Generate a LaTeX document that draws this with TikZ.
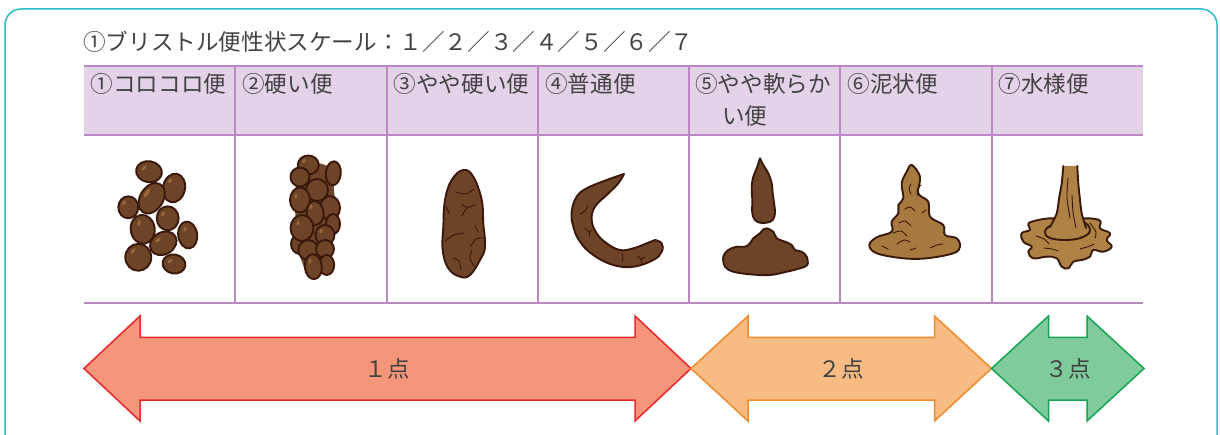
\documentclass[tikz,border=0pt]{standalone}
\usepackage{fontspec}
\setmainfont{Noto Sans CJK JP}
\usepackage{tikz}

\definecolor{frameteal}{HTML}{2EC0C4}
\definecolor{gridpurple}{HTML}{BB88C4}
\definecolor{headfill}{HTML}{E4D2E8}
\definecolor{textgray}{HTML}{424242}
\definecolor{stoolbrown}{HTML}{6D4428}
\definecolor{mudbrown}{HTML}{A67A3E}
\definecolor{waterbrown}{HTML}{AD8244}
\definecolor{stoolline}{HTML}{3A180B}
\definecolor{shinebrown}{HTML}{9C6A3B}
\definecolor{redfill}{HTML}{F5967A}
\definecolor{redline}{HTML}{E9262B}
\definecolor{orangefill}{HTML}{F9BB84}
\definecolor{orangeline}{HTML}{F18B2A}
\definecolor{greenfill}{HTML}{80CB9B}
\definecolor{greenline}{HTML}{15A550}

\tikzset{
  frameline/.style={draw=frameteal,line width=1.5pt,rounded corners=16pt},
  gridline/.style={draw=gridpurple,line width=2pt},
  headtext/.style={anchor=base west,inner sep=0pt,text=textgray,align=left,
    font=\fontsize{22.6}{32}\selectfont},
  lump/.style={fill=stoolbrown,draw=stoolline,line width=1.9pt,line join=round},
  mud/.style={fill=mudbrown,draw=stoolline,line width=1.9pt,line join=round},
  water/.style={fill=waterbrown,draw=stoolline,line width=1.9pt,line join=round},
  crease/.style={draw=stoolline,line width=0.9pt,line cap=round},
  shine/.style={fill=shinebrown},
  scorearrow/.style={line width=1.5pt,line join=miter},
  scoretext/.style={inner sep=0pt,text=textgray,font=\fontsize{22.6}{26}\selectfont}
}

\begin{document}
\begin{tikzpicture}[x=1pt,y=-1pt]
  \useasboundingbox (0,0) rectangle (1220,435);
  % frame
  \draw[frameline] (5,9) rectangle (1217,452);
  \node[headtext] (title) at (83,50.5)
    {①ブリストル便性状スケール：１／２／３／４／５／６／７};

  % table
  \fill[headfill] (84,66) rectangle (1143,135);
  \draw[gridline] (84,66) -- (1143,66);
  \draw[gridline] (84,135) -- (1143,135);
  \draw[gridline] (84,303.5) -- (1143,303.5);
  \draw[gridline] (235.3,66) -- (235.3,303.5);
  \draw[gridline] (386.6,66) -- (386.6,303.5);
  \draw[gridline] (537.9,66) -- (537.9,303.5);
  \draw[gridline] (689.1,66) -- (689.1,303.5);
  \draw[gridline] (840.4,66) -- (840.4,303.5);
  \draw[gridline] (991.7,66) -- (991.7,303.5);
  \node[headtext] (h1) at (90.5,93) {①コロコロ便};
  \node[headtext] (h2) at (242,93) {②硬い便};
  \node[headtext] (h3) at (393.5,93) {③やや硬い便};
  \node[headtext] (h4) at (545,93) {④普通便};
  \node[headtext] (h5) at (695,125) {⑤やや軟らか\\\hspace*{1.2em}い便};
  \node[headtext] (h6) at (847.5,93) {⑥泥状便};
  \node[headtext] (h7) at (998.5,93) {⑦水様便};

  % type 1: separate hard pellets
  \draw[lump,rotate around={-10:(149,171.7)}] (149,171.7) ellipse [x radius=13,y radius=10.5];
  \draw[lump,rotate around={-12:(174,188)}] (174,188) ellipse [x radius=11,y radius=14.5];
  \draw[lump,rotate around={-32:(151.7,198.3)}] (151.7,198.3) ellipse [x radius=11.5,y radius=16.5];
  \draw[lump] (128.3,207.3) ellipse [x radius=10,y radius=11];
  \draw[lump] (167.7,218.3) ellipse [x radius=11,y radius=12];
  \draw[lump,rotate around={8:(142.7,229.3)}] (142.7,229.3) ellipse [x radius=12,y radius=14.5];
  \draw[lump,rotate around={8:(187.7,235)}] (187.7,235) ellipse [x radius=9.5,y radius=13.5];
  \draw[lump,rotate around={30:(163.3,243.3)}] (163.3,243.3) ellipse [x radius=14,y radius=11];
  \draw[lump] (138.3,257.3) ellipse [x radius=13,y radius=13.5];
  \draw[lump,rotate around={-10:(174,264)}] (174,264) ellipse [x radius=11.5,y radius=9.5];
  \fill[shine,rotate around={50:(144,168)}] (144,168) ellipse [x radius=2.6,y radius=1.4];
  \fill[shine,rotate around={60:(170,181)}] (170,181) ellipse [x radius=2.6,y radius=1.4];
  \fill[shine,rotate around={58:(147,193)}] (147,193) ellipse [x radius=5,y radius=1.8];
  \fill[shine,rotate around={60:(124,203)}] (124,203) ellipse [x radius=2.6,y radius=1.4];
  \fill[shine,rotate around={60:(163,214)}] (163,214) ellipse [x radius=2.6,y radius=1.4];
  \fill[shine,rotate around={70:(139,223)}] (139,223) ellipse [x radius=3,y radius=1.4];
  \fill[shine,rotate around={70:(185,229)}] (185,229) ellipse [x radius=2.6,y radius=1.4];
  \fill[shine,rotate around={40:(158,240)}] (158,240) ellipse [x radius=3,y radius=1.4];
  \fill[shine,rotate around={60:(133,251)}] (133,251) ellipse [x radius=3,y radius=1.4];
  \fill[shine,rotate around={40:(170,261)}] (170,261) ellipse [x radius=2.6,y radius=1.4];

  % type 2: lumpy sausage
  \fill[stoolbrown] plot[smooth cycle,tension=0.7] coordinates {(310,163) (325,165) (333,172)
    (334,190) (335,205) (334,225) (332,245) (329,262) (324,272) (315,276) (307,272)
    (302,262) (297,245) (296,225) (295,205) (296,185) (300,170)};
  \draw[lump,rotate around={-5:(333.3,173.3)}] (333.3,173.3) ellipse [x radius=7.5,y radius=12];
  \draw[lump] (308.3,165) ellipse [x radius=10.5,y radius=9.5];
  \draw[lump] (300,177) ellipse [x radius=9.5,y radius=9.5];
  \draw[lump] (317,190) ellipse [x radius=11,y radius=11];
  \draw[lump] (330,208) ellipse [x radius=10,y radius=12];
  \draw[lump] (300,200) ellipse [x radius=10,y radius=12.5];
  \draw[lump] (333,224) ellipse [x radius=7,y radius=10];
  \draw[lump,rotate around={5:(315,213)}] (315,213) ellipse [x radius=8.5,y radius=12];
  \draw[lump] (300,244) ellipse [x radius=9,y radius=10];
  \draw[lump] (302,228) ellipse [x radius=11.5,y radius=13];
  \draw[lump] (325,235) ellipse [x radius=9.5,y radius=10];
  \draw[lump] (308.3,250) ellipse [x radius=10,y radius=10];
  \draw[lump] (325,249) ellipse [x radius=9,y radius=9];
  \draw[lump] (326.7,265) ellipse [x radius=7.5,y radius=10];
  \draw[lump,rotate around={5:(313.3,266.7)}] (313.3,266.7) ellipse [x radius=8.5,y radius=12.5];
  \fill[shine,rotate around={60:(304,161)}] (304,161) ellipse [x radius=2.4,y radius=1.3];
  \fill[shine,rotate around={70:(296,196)}] (296,196) ellipse [x radius=2.6,y radius=1.3];
  \fill[shine,rotate around={70:(311,207)}] (311,207) ellipse [x radius=2.6,y radius=1.3];
  \fill[shine,rotate around={70:(298,223)}] (298,223) ellipse [x radius=2.6,y radius=1.3];
  \fill[shine,rotate around={60:(321,231)}] (321,231) ellipse [x radius=2.4,y radius=1.3];
  \fill[shine,rotate around={70:(310,261)}] (310,261) ellipse [x radius=2.6,y radius=1.3];

  % type 3: cracked sausage
  \draw[lump] plot[smooth cycle,tension=0.7] coordinates {(463.3,170) (473.3,176.7)
    (481.7,200) (483.3,223.3) (485,246.7) (480,260) (470,275) (460,276.7)
    (448.3,268.3) (442.7,250) (443.3,226.7) (445,200) (451.7,180)};
  \draw[crease] plot[smooth] coordinates {(456,192) (466,194) (474,189)};
  \draw[crease] plot[smooth] coordinates {(462,216) (467,208) (476,205)};
  \draw[crease] (467,208) -- (462,204);
  \draw[crease] plot[smooth] coordinates {(446,206) (449,213)};
  \draw[crease] plot[smooth] coordinates {(445,241) (454,235) (464,233)};
  \draw[crease] plot[smooth] coordinates {(471,246) (476,239) (484,238)};
  \draw[crease] plot[smooth] coordinates {(472,250) (470,258) (474,266)};
  \draw[crease] plot[smooth] coordinates {(453,258) (459,261) (461,270)};
  \draw[crease] plot[smooth] coordinates {(475,226) (478,232)};

  % type 4: smooth curved sausage
  \draw[lump] plot[smooth,tension=0.7] coordinates {(624,174) (606.7,180) (586.7,188.3)
    (576.7,196.7) (571.7,211.7) (573.3,226.7) (580,241.7) (593.3,255) (613.3,265)
    (633.3,266.7) (653.3,260) (661.7,251.7) (661.7,243.3) (655,240)}
    -- plot[smooth,tension=0.7] coordinates {(655,240) (646.7,243.3) (633.3,248.3)
    (620,250) (606.7,243.3) (596.7,233.3) (591.7,220) (595,206.7) (606.7,195)
    (618.3,183.3) (624,174)} -- cycle;
  \draw[crease] plot[smooth] coordinates {(580,214) (585,211) (588,206)};
  \draw[crease] (585,228) -- (589,232) -- (592,230);
  \draw[crease] (589,232) -- (589,236);
  \draw[crease] plot[smooth] coordinates {(622,253) (623,258) (622,262)};
  \draw[crease] (638,256) -- (641,259) -- (645,257);
  \draw[crease] (641,259) -- (642,263);

  % type 5: soft blobs
  \draw[lump] plot[smooth,tension=0.6] coordinates {(760,158.3) (763.3,165) (768.3,173.3)
    (771.7,183.3) (772.7,193.3) (774.3,205) (775,213.3) (772.7,220) (766.7,222.7)
    (760,222.7) (755,220) (752.3,213.3) (752.3,200) (751.7,186.7) (753.3,176.7)
    (756.7,168.3) (760,158.3)} -- cycle;
  \draw[lump] plot[smooth cycle,tension=0.6] coordinates {(766.7,228.3) (773.3,231.7)
    (776.7,238.3) (785,241.7) (791.7,245) (795,250) (801.7,251.7) (806.7,256.7)
    (807.3,265) (800,268.3) (786.7,271.7) (770,275) (750,274.3) (733.3,271.7)
    (725,266.7) (723.3,256.7) (728.3,250) (736.7,246.7) (745,246.7) (750,243.3)
    (753.3,238.3) (760,233.3) (763.3,229.3)};

  % type 6: mushy heap
  \draw[mud] plot[smooth cycle,tension=0.6] coordinates {(911.7,165) (920,176.7)
    (918.3,193.3) (928.3,201.7) (930,216.7) (943.3,225) (945,235) (956.7,238.3)
    (960,246.7) (953.3,253.3) (926.7,258.3) (903.3,258.3) (876.7,253.3)
    (869.3,245) (876.7,237.3) (891.7,231.7) (891.7,221.7) (898.3,213.3)
    (898.3,205) (903.3,198.3) (901.7,183.3) (906.7,171.7)};
  \draw[crease] plot[smooth] coordinates {(911,184) (909,189) (911,194)};
  \draw[crease] plot[smooth] coordinates {(921,185) (917,190) (918,196)};
  \draw[crease] plot[smooth] coordinates {(905,209) (910,207) (915,211)};
  \draw[crease] plot[smooth] coordinates {(922,213) (926,210)};
  \draw[crease] plot[smooth] coordinates {(899,223) (905,221) (911,226)};
  \draw[crease] plot[smooth] coordinates {(893,233) (901,231) (907,236)};
  \draw[crease] plot[smooth] coordinates {(897,244) (904,240) (910,242)};
  \draw[crease] plot[smooth] coordinates {(882,246) (888,249)};
  \draw[crease] plot[smooth] coordinates {(930,248) (937,245) (943,244)};
  \draw[crease] plot[smooth] coordinates {(910,250) (916,248)};

  % type 7: watery puddle
  \draw[water] plot[smooth cycle,tension=0.7] coordinates {(1031.7,221.7) (1050,218.3)
    (1068,220) (1086.7,218.3) (1100,220.7) (1100,228.3) (1110,233.3) (1106.7,240)
    (1111.7,246.7) (1103.3,251.7) (1093.3,250) (1090,256.7) (1081.7,260)
    (1073.3,261.7) (1068.3,268.3) (1061.7,266.7) (1056.7,258.3) (1046.7,256.7)
    (1033.3,258.3) (1028.3,251.7) (1031.7,246.7) (1023.3,241.7) (1021.7,233.3)
    (1030,230) (1028.3,225)};
  \draw[water] plot[smooth cycle,tension=0.7] coordinates {(1045,231.7) (1052,225)
    (1066,222) (1083,222) (1090,230) (1083,237) (1067,240) (1050,238)};
  \fill[waterbrown] plot[smooth] coordinates {(1063.3,166) (1061.7,183.3) (1059.3,196.7)
    (1056.7,213.3) (1050,227)} -- (1066,232) -- plot[smooth] coordinates {(1086,228)
    (1081.7,213.3) (1080,200) (1078.3,183.3) (1077.3,166)} -- cycle;
  \draw[crease,line width=1.9pt] plot[smooth] coordinates {(1063.3,166) (1061.7,183.3)
    (1059.3,196.7) (1056.7,213.3) (1050,227)};
  \draw[crease,line width=1.9pt] plot[smooth] coordinates {(1077.3,166) (1078.3,183.3)
    (1080,200) (1081.7,213.3) (1086,228)};
  \draw[crease] plot[smooth] coordinates {(1068,178) (1067,198) (1070,218)};
  \draw[crease] plot[smooth] coordinates {(1072,195) (1073,212) (1076,228)};
  \draw[crease] plot[smooth] coordinates {(1036,236) (1044,239) (1049,244)};
  \draw[crease] plot[smooth] coordinates {(1044,248) (1052,249) (1058,251)};
  \draw[crease] plot[smooth] coordinates {(1080,249) (1090,246) (1094,244)};
  \draw[crease] plot[smooth] coordinates {(1090,223) (1096,232) (1095,238)};

  % score arrows
  \draw[scorearrow,fill=redfill,draw=redline] (84,368.5) -- (140,316) -- (140,337.5)
    -- (635,337.5) -- (635,316) -- (691,368.5) -- (635,421) -- (635,400)
    -- (140,400) -- (140,421) -- cycle;
  \draw[scorearrow,fill=orangefill,draw=orangeline] (691,368.5) -- (748,316) -- (748,337.5)
    -- (934.5,337.5) -- (934.5,316) -- (991.5,368.5) -- (934.5,421) -- (934.5,400)
    -- (748,400) -- (748,421) -- cycle;
  \draw[scorearrow,fill=greenfill,draw=greenline] (991.5,368.5) -- (1048.5,316) -- (1048.5,337.5)
    -- (1087,337.5) -- (1087,316) -- (1144,368.5) -- (1087,421) -- (1087,400)
    -- (1048.5,400) -- (1048.5,421) -- cycle;
  \node[scoretext] (p1) at (387.5,368.5) {１点};
  \node[scoretext] (p2) at (841,368.5) {２点};
  \node[scoretext] (p3) at (1068,368.5) {３点};
\end{tikzpicture}
\end{document}
